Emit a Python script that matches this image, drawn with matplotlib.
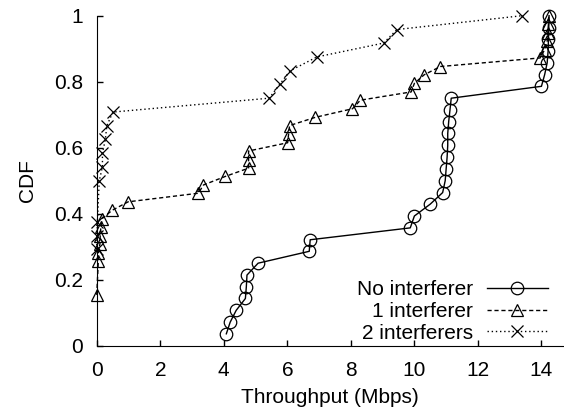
import matplotlib
matplotlib.use("Agg")
import matplotlib.pyplot as plt

# Throughput samples (Mbps) and their CDF values
no_interf_x = [4.08, 4.20, 4.39, 4.68, 4.71, 4.73, 5.08, 6.69, 6.72, 9.87, 10.00, 10.50, 10.89, 10.97,
               11.00, 11.03, 11.05, 11.05, 11.08, 11.12, 11.16, 14.00, 14.10, 14.18, 14.21, 14.22, 14.23, 14.24]
no_interf_y = [0.036, 0.071, 0.107, 0.143, 0.179, 0.214, 0.250, 0.286, 0.321, 0.357, 0.393, 0.429, 0.464, 0.500,
               0.536, 0.571, 0.607, 0.643, 0.679, 0.714, 0.750, 0.786, 0.821, 0.857, 0.893, 0.929, 0.964, 1.000]

one_interf_x = [0.00, 0.05, 0.05, 0.10, 0.11, 0.13, 0.17, 0.48, 0.99, 3.20, 3.36, 4.05, 4.78, 4.78, 4.78, 6.01,
                6.04, 6.07, 6.88, 8.05, 8.30, 9.90, 10.00, 10.31, 10.82, 13.96, 14.10, 14.18, 14.20, 14.22, 14.23]
one_interf_y = [0.154, 0.256, 0.282, 0.308, 0.333, 0.359, 0.385, 0.410, 0.436, 0.462, 0.487, 0.513, 0.538, 0.564,
                0.590, 0.615, 0.641, 0.667, 0.692, 0.718, 0.744, 0.769, 0.795, 0.821, 0.846, 0.872, 0.897, 0.923,
                0.949, 0.974, 1.000]

two_interf_x = [0.00, 0.01, 0.02, 0.08, 0.18, 0.18, 0.27, 0.32, 0.51, 5.43, 5.76, 6.09, 6.93, 9.03, 9.45, 13.39]
two_interf_y = [0.292, 0.333, 0.375, 0.500, 0.542, 0.583, 0.625, 0.667, 0.708, 0.750, 0.792, 0.833, 0.875,
                0.917, 0.958, 1.000]

plt.rcParams['font.family'] = ['Liberation Sans', 'DejaVu Sans']
plt.rcParams['font.size'] = 15

fig = plt.figure(figsize=(5.64, 4.13), dpi=100)
ax = fig.add_axes([0.1715, 0.163, 0.8285, 0.799])

mk = dict(color='black', fillstyle='none', markersize=9, markeredgewidth=0.9, linewidth=1.0, clip_on=False)
ax.plot(no_interf_x, no_interf_y, linestyle='-', marker='o', label='No interferer', **mk)
ax.plot(one_interf_x, one_interf_y, linestyle=(0, (3, 2)), marker='^', label='1 interferer', **mk)
ax.plot(two_interf_x, two_interf_y, linestyle=(0, (1, 2)), marker='x', label='2 interferers', **mk)

ax.set_xlim(0, 14.71)
ax.set_ylim(0, 1)
ax.set_xticks([0, 2, 4, 6, 8, 10, 12, 14])
ax.set_yticks([0, 0.2, 0.4, 0.6, 0.8, 1.0])
ax.set_yticklabels(['0', '0.2', '0.4', '0.6', '0.8', '1'])
ax.spines['top'].set_visible(False)
ax.spines['right'].set_visible(False)
ax.tick_params(direction='in', length=4, width=1, pad=10)
ax.tick_params(axis='x', pad=11)

ax.set_xlabel('Throughput (Mbps)', labelpad=6)
ax.set_ylabel('CDF', labelpad=12)

leg = ax.legend(loc='lower right', bbox_to_anchor=(0.966, 0.009), markerfirst=False, frameon=False,
                handlelength=2.95, handletextpad=0.67, labelspacing=0.13, borderpad=0, borderaxespad=0,
                fontsize=15)

fig.savefig('out.png', dpi=100)
